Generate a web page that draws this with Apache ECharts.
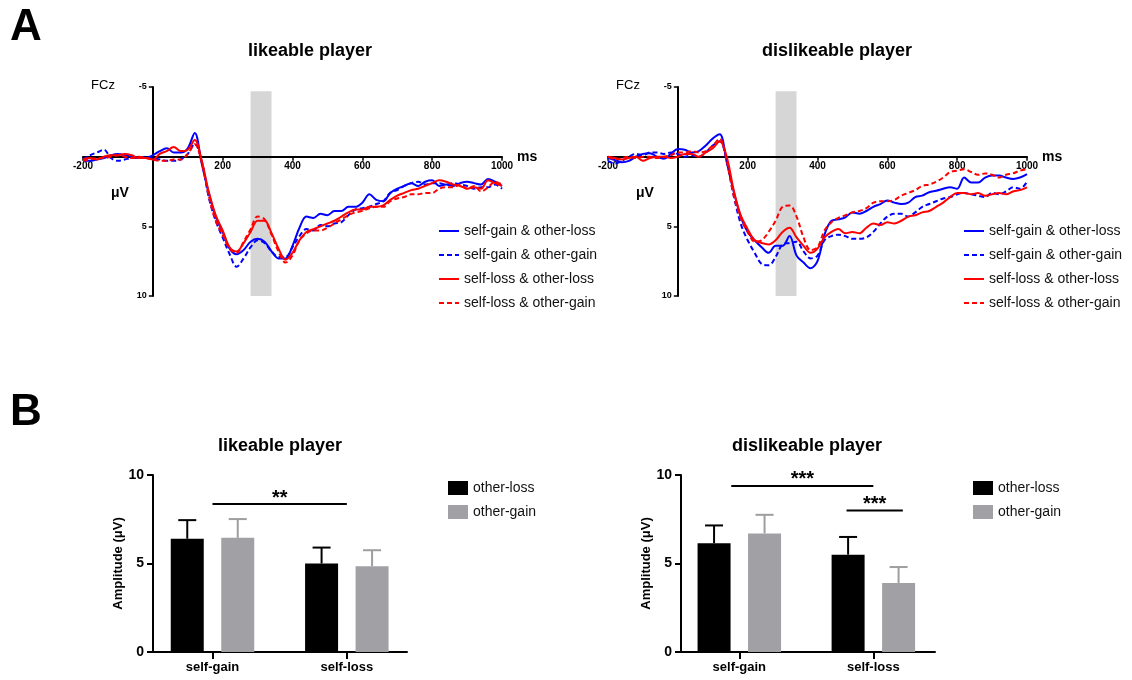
<!DOCTYPE html>
<html>
<head>
<meta charset="utf-8">
<script src="https://cdn.jsdelivr.net/npm/echarts@6/dist/echarts.min.js"></script>
<style>html,body{margin:0;padding:0;background:#fff}#c{width:1132px;height:680px}</style>
</head>
<body>
<div id="c"></div>
<script>
// ---------- DATA ----------
const times = [-200,-180,-160,-140,-120,-100,-80,-60,-40,-20,0,20,40,60,80,100,120,140,160,180,200,220,240,260,280,300,320,340,360,380,400,420,440,460,480,500,520,540,560,580,600,620,640,660,680,700,720,740,760,780,800,820,840,860,880,900,920,940,960,980,1000];
const erpNames = ['self-gain & other-loss','self-gain & other-gain','self-loss & other-loss','self-loss & other-gain'];

// likeable player (µV, positive plotted downward)
const likeGainLoss = [0.3,0.3,0.2,0.1,-0.1,-0.2,-0.1,0.0,0.1,0.1,-0.1, -0.4,-0.6,-0.3,-0.3,-0.6,-1.7,0.5,2.6,4.3,5.4, 6.6,7.0,6.7,6.1,5.9,6.1,6.8,7.3,7.3,6.4, 5.1,4.3,4.4,4.1,4.2,3.9,3.9,3.6,3.6,3.3, 2.7,3.1,3.2,2.6,2.3,2.1,1.9,2.1,1.8,1.7, 2.1,2.0,2.1,1.9,1.8,1.9,2.0,1.6,1.8,2.1];
const likeGainGain = [0.2,-0.1,-0.3,-0.5,0.1,0.3,0.2,0.1,0.1,0.0,0.1, 0.2,0.3,0.3,0.2,-0.2,-0.9,0.3,2.9,4.6,5.8, 7.0,7.9,7.3,6.5,6.0,6.2,6.8,7.2,7.2,6.5, 5.7,5.2,5.3,4.9,5.0,4.8,4.7,4.2,3.8,3.7, 3.6,3.4,3.2,2.6,2.4,2.1,1.9,1.8,2.0,1.9, 1.9,2.0,1.9,2.0,2.1,2.3,2.2,2.2,2.0,2.3];
const likeLossLoss = [0.2,0.1,0.2,0.0,-0.1,-0.1,-0.2,-0.1,0.1,0.1,0.2, -0.2,-0.4,-0.7,-0.4,-0.5,-1.2,0.3,2.5,4.2,5.3, 6.5,6.8,6.2,5.4,4.6,4.6,5.5,6.6,7.4,6.9, 6.0,5.4,5.2,5.0,4.8,4.6,4.3,4.0,3.8,3.8, 3.6,3.6,3.5,3.1,2.8,2.6,2.4,2.3,2.1,1.9, 1.7,1.8,2.0,2.1,2.3,2.2,2.3,1.7,1.9,2.1];
const likeLossGain = [0.3,0.2,0.1,0.1,0.0,-0.1,0.0,0.1,0.0,0.1,0.2, 0.3,0.3,0.2,0.2,-0.2,-0.9,0.4,2.8,4.6,5.6, 6.6,6.9,6.1,5.2,4.3,4.5,5.6,6.8,7.6,7.1, 6.0,5.5,5.3,5.3,5.1,4.8,4.5,4.2,4.0,3.9, 3.7,3.6,3.6,3.2,3.0,2.9,2.7,2.7,2.6,2.6, 2.3,2.2,2.2,2.0,2.3,2.1,2.5,2.2,1.8,2.0];

// dislikeable player
const disGainLoss = [0.1,0.25,0.4,0.3,0.0,-0.2,-0.25,0.0,0.15,-0.2,-0.55, -0.5,-0.3,-0.4,-0.8,-1.3,-1.6,0.4,2.5,4.3,5.4, 6.0,6.5,6.9,6.4,6.4,5.7,7.1,7.6,8.0,7.5, 5.6,4.6,4.5,4.35,4.0,4.1,3.9,3.6,3.4,3.15, 3.3,3.4,3.3,2.9,2.8,2.55,2.45,2.3,2.2,2.3, 1.5,1.85,1.85,1.5,1.35,1.35,1.5,1.6,1.5,1.25];
const disGainGain = [0.3,0.5,0.3,0.0,-0.2,-0.1,-0.3,-0.3,-0.2,-0.3,-0.2, 0.0,-0.1,0.0,-0.3,-0.8,-1.1,0.3,2.8,4.8,6.0, 6.9,7.7,7.8,7.2,6.3,6.2,6.1,6.8,7.3,7.1, 6.0,5.7,5.6,5.7,5.9,5.9,5.8,5.4,4.8,4.3, 4.1,4.1,4.3,4.0,3.6,3.4,3.2,3.0,2.9,2.7, 2.6,2.7,2.8,2.9,2.6,2.7,2.5,2.2,2.3,1.8];
const disLossLoss = [0.0,0.1,0.2,0.1,0.0,0.3,0.1,0.0,0.0,0.1,0.0, -0.2,-0.2,0.0,-0.3,-0.6,-1.1,0.0,2.4,4.2,5.2, 6.0,6.2,6.3,6.0,5.4,5.1,5.8,6.4,6.9,6.6, 5.8,5.4,5.2,5.5,5.4,5.5,5.1,4.8,4.9,4.7, 4.8,4.6,4.3,4.2,4.0,3.9,3.6,3.3,2.9,2.6, 2.6,2.7,2.6,2.8,2.7,2.6,2.7,2.5,2.4,2.2];
const disLossGain = [0.0,0.2,0.1,0.0,0.1,0.0,0.0,0.1,0.0,-0.1,-0.3, -0.3,-0.4,-0.3,-0.4,-0.8,-1.3,0.3,2.8,4.4,5.4, 6.1,6.0,5.4,4.6,3.6,3.5,4.3,5.8,6.7,6.5, 5.3,4.7,4.4,4.2,4.0,3.9,3.7,3.3,3.2,3.2, 3.1,2.8,2.6,2.4,2.1,2.0,1.8,1.5,1.1,1.0, 0.9,1.1,1.3,1.2,1.3,1.5,1.3,1.2,1.0,0.9];

const bandX = [280, 340];
const bandY = [-4.7, 10];
const erpXTicks = [-200, 1000, 200];
const erpYTicks = [-5, 10, 5];

// bar panels
const barCats = ['self-gain', 'self-loss'];
const barNames = ['other-loss', 'other-gain'];
const likeOtherLoss = [6.4, 5.0];
const likeOtherLossErr = [1.05, 0.9];
const likeOtherGain = [6.45, 4.85];
const likeOtherGainErr = [1.06, 0.9];
const disOtherLoss = [6.15, 5.5];
const disOtherLossErr = [1.0, 1.0];
const disOtherGain = [6.7, 3.9];
const disOtherGainErr = [1.05, 0.9];

const likeSigFrom = [0];
const likeSigTo = [1];
const likeSigY = [8.36];
const likeSigText = ['**'];
const disSigFrom = [-0.06, 0.8];
const disSigTo = [1.0, 1.22];
const disSigY = [9.38, 8.0];
const disSigText = ['***', '***'];

// ---------- STYLE ----------
const FONT = 'Liberation Sans, Arial, Helvetica, sans-serif';
const BLUE = '#0000ff', RED = '#ff0000';
const BAR_W = 33, BAR_GAP = 0.53, CAP_W = 18;
const BLACK = '#000000', GREY = '#a1a1a5', GREY_ERR = '#9e9e9e';
const ERP_GRID_W = 419, ERP_GRID_H = 209;

const chart = echarts.init(document.getElementById('c'), null, {renderer: 'canvas'});

function pts(vals) { return times.map((t, i) => [t, vals[i]]); }

const erpStyle = [
  {color: BLUE, type: 'solid'},
  {color: BLUE, type: [5, 3]},
  {color: RED, type: 'solid'},
  {color: RED, type: [5, 3]}
];

function erpSeries(p, sets) {
  return sets.map((vals, k) => {
    const s = {
      name: erpNames[k], type: 'line', xAxisIndex: p, yAxisIndex: p,
      data: pts(vals), showSymbol: false, symbol: 'none', smooth: 0.35,
      lineStyle: {color: erpStyle[k].color, width: 2, type: erpStyle[k].type},
      itemStyle: {color: erpStyle[k].color}, z: 2, animation: false
    };
    if (k === 0) {
      s.markArea = {silent: true, z: 1, itemStyle: {color: '#d6d6d6'},
        data: [[{xAxis: bandX[0], yAxis: bandY[0]}, {xAxis: bandX[1], yAxis: bandY[1]}]]};
    }
    return s;
  });
}

// zero-crossing offsets computed from the axis ranges
const xAxisShift = -ERP_GRID_H * (erpYTicks[1] - 0) / (erpYTicks[1] - erpYTicks[0]);
const yAxisShift = -ERP_GRID_W * (0 - erpXTicks[0]) / (erpXTicks[1] - erpXTicks[0]);

function erpX(gi) {
  return {gridIndex: gi, type: 'value', min: erpXTicks[0], max: erpXTicks[1], interval: erpXTicks[2], z: 1.5,
    position: 'bottom', offset: xAxisShift,
    axisLine: {show: true, onZero: false, lineStyle: {color: '#000', width: 2}},
    axisTick: {show: true, length: 4, lineStyle: {color: '#000', width: 1.5}},
    axisLabel: {fontSize: 10, fontWeight: 'bold', color: '#000', margin: 5, fontFamily: FONT,
      formatter: v => v === 0 ? '' : String(v)},
    splitLine: {show: false},
    name: 'ms', nameLocation: 'end', nameGap: 15,
    nameTextStyle: {fontSize: 14, fontWeight: 'bold', color: '#000', fontFamily: FONT, padding: [0, 0, 6, 0]}};
}
function erpY(gi) {
  return {gridIndex: gi, type: 'value', inverse: true, min: erpYTicks[0], max: erpYTicks[1], interval: erpYTicks[2], z: 1.5,
    position: 'left', offset: yAxisShift,
    axisLine: {show: true, onZero: false, lineStyle: {color: '#000', width: 2}},
    axisTick: {show: true, length: 4, lineStyle: {color: '#000', width: 1.5}},
    axisLabel: {fontSize: 9, fontWeight: 'bold', color: '#000', margin: 6, fontFamily: FONT,
      formatter: v => v === 0 ? '' : String(v)},
    splitLine: {show: false}};
}
function barX(gi, mn, mx) {
  return {gridIndex: gi, type: 'value', min: mn, max: mx,
    axisLine: {show: true, onZero: false, lineStyle: {color: '#000', width: 2}},
    axisTick: {show: true, customValues: [0, 1], length: 7, lineStyle: {color: '#000', width: 2}},
    axisLabel: {show: true, customValues: [0, 1], formatter: v => barCats[Math.round(v)],
      fontSize: 13, fontWeight: 'bold', color: '#000', margin: 9, fontFamily: FONT},
    splitLine: {show: false}};
}
function barY(gi) {
  return {gridIndex: gi, type: 'value', min: 0, max: 10, interval: 5,
    axisLine: {show: true, onZero: false, lineStyle: {color: '#000', width: 2}},
    axisTick: {show: true, length: 6, lineStyle: {color: '#000', width: 2}},
    axisLabel: {fontSize: 14, fontWeight: 'bold', color: '#000', margin: 9, fontFamily: FONT},
    splitLine: {show: false},
    name: 'Amplitude (μV)', nameLocation: 'middle', nameGap: 28,
    nameTextStyle: {fontSize: 13, fontWeight: 'bold', color: '#000', fontFamily: FONT}};
}

function barSeries(p, means, color, nameIdx) {
  return {name: barNames[nameIdx], type: 'bar', xAxisIndex: 2 + p, yAxisIndex: 2 + p,
    data: barCats.map((c, i) => [i, means[i]]), barWidth: BAR_W, barGap: (BAR_GAP * 100) + '%',
    itemStyle: {color: color}, z: 2, animation: false};
}
function errSeries(p, means, errs, color, side) {
  const off = side * (BAR_W + BAR_W * BAR_GAP) / 2;
  return {type: 'custom', xAxisIndex: 2 + p, yAxisIndex: 2 + p, clip: false, silent: true, z: 3,
    data: barCats.map((c, i) => [i, means[i], errs[i]]),
    renderItem: (params, api) => {
      const a = api.coord([api.value(0), api.value(1)]);
      const b = api.coord([api.value(0), api.value(1) + api.value(2)]);
      const cx = a[0] + off;
      return {type: 'group', children: [
        {type: 'line', shape: {x1: cx, y1: a[1], x2: cx, y2: b[1]}, style: {stroke: color, lineWidth: 2}},
        {type: 'line', shape: {x1: cx - CAP_W / 2, y1: b[1], x2: cx + CAP_W / 2, y2: b[1]}, style: {stroke: color, lineWidth: 2}}
      ]};
    }, animation: false};
}
function sigSeries(p, from, to, ys, texts) {
  return {type: 'custom', xAxisIndex: 2 + p, yAxisIndex: 2 + p, clip: false, silent: true, z: 3,
    data: from.map((f, i) => [f, to[i], ys[i]]),
    renderItem: (params, api) => {
      const a = api.coord([api.value(0), api.value(2)]);
      const b = api.coord([api.value(1), api.value(2)]);
      return {type: 'group', children: [
        {type: 'line', shape: {x1: a[0], y1: a[1], x2: b[0], y2: b[1]}, style: {stroke: '#000', lineWidth: 2}},
        {type: 'text', x: (a[0] + b[0]) / 2, y: a[1] - 6,
          style: {text: texts[params.dataIndex], font: 'bold 20px ' + FONT, fill: '#000', align: 'center', verticalAlign: 'middle'}}
      ]};
    }, animation: false};
}

function t(text, left, top, size, weight, align) {
  return {text: text, left: left, top: top, padding: 0, textAlign: align || 'left',
    textStyle: {fontSize: size, fontWeight: weight, color: '#000', fontFamily: FONT}};
}

const legendBase = {orient: 'vertical', itemWidth: 20, itemHeight: 14, itemGap: 10, padding: 0,
  textStyle: {fontSize: 14, color: '#111', fontFamily: FONT}, selectedMode: false};

const option = {
  animation: false,
  textStyle: {fontFamily: FONT},
  title: [
    t('A', 10, 6, 44, 'bold'),
    t('B', 10, 391, 44, 'bold'),
    t('likeable player', 310, 42, 18, 'bold', 'center'),
    t('dislikeable player', 837, 42, 18, 'bold', 'center'),
    t('likeable player', 280, 437, 18, 'bold', 'center'),
    t('dislikeable player', 807, 437, 18, 'bold', 'center'),
    t('FCz', 103, 79, 13, 'normal', 'center'),
    t('FCz', 628, 79, 13, 'normal', 'center'),
    t('μV', 120, 186, 14, 'bold', 'center'),
    t('μV', 645, 186, 14, 'bold', 'center')
  ],
  legend: [
    Object.assign({}, legendBase, {data: erpNames, left: 438, top: 224, itemStyle: {opacity: 0}}),
    Object.assign({}, legendBase, {data: erpNames, left: 963, top: 224, itemStyle: {opacity: 0}}),
    Object.assign({}, legendBase, {data: barNames, left: 448, top: 481, icon: 'rect'}),
    Object.assign({}, legendBase, {data: barNames, left: 973, top: 481, icon: 'rect'})
  ],
  grid: [
    {left: 83, top: 87, width: ERP_GRID_W, height: ERP_GRID_H},
    {left: 608, top: 87, width: ERP_GRID_W, height: ERP_GRID_H},
    {left: 153, top: 475, width: 254, height: 177},
    {left: 681, top: 475, width: 254, height: 177}
  ],
  xAxis: [erpX(0), erpX(1), barX(2, -0.443, 1.448), barX(3, -0.435, 1.46)],
  yAxis: [erpY(0), erpY(1), barY(2), barY(3)],
  series: [].concat(
    erpSeries(0, [likeGainLoss, likeGainGain, likeLossLoss, likeLossGain]),
    erpSeries(1, [disGainLoss, disGainGain, disLossLoss, disLossGain]),
    [
      barSeries(0, likeOtherLoss, BLACK, 0),
      barSeries(0, likeOtherGain, GREY, 1),
      errSeries(0, likeOtherLoss, likeOtherLossErr, BLACK, -1),
      errSeries(0, likeOtherGain, likeOtherGainErr, GREY_ERR, 1),
      sigSeries(0, likeSigFrom, likeSigTo, likeSigY, likeSigText),
      barSeries(1, disOtherLoss, BLACK, 0),
      barSeries(1, disOtherGain, GREY, 1),
      errSeries(1, disOtherLoss, disOtherLossErr, BLACK, -1),
      errSeries(1, disOtherGain, disOtherGainErr, GREY_ERR, 1),
      sigSeries(1, disSigFrom, disSigTo, disSigY, disSigText)
    ]
  )
};
chart.setOption(option);
</script>
</body>
</html>
